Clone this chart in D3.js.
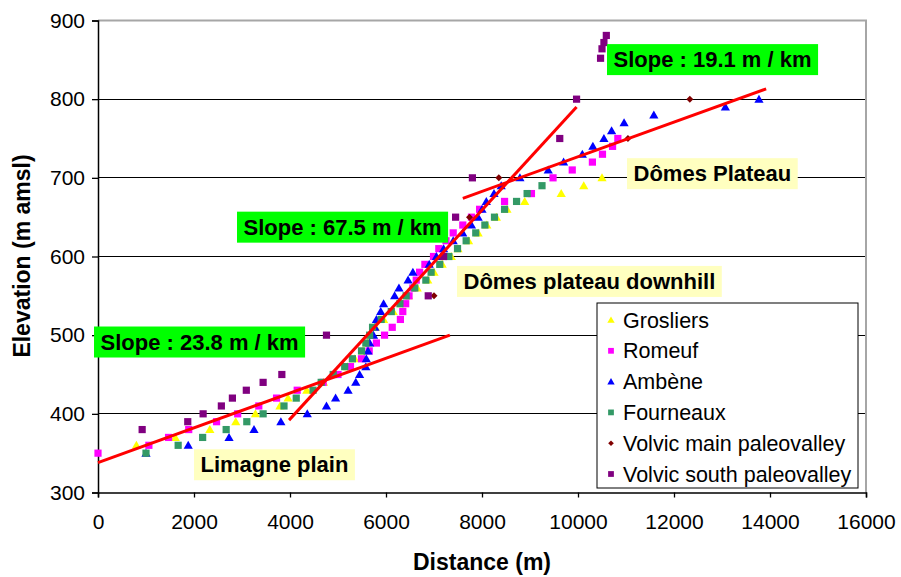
<!DOCTYPE html>
<html><head><meta charset="utf-8">
<script src="https://cdn.jsdelivr.net/npm/d3@7"></script>
<style>body{margin:0;background:#fff} svg{display:block} text{font-family:"Liberation Sans",Arial,sans-serif}</style>
</head><body><svg id="c" width="901" height="577"></svg>
<script>
const xTicks=[0,2000,4000,6000,8000,10000,12000,14000,16000];
const yTicks=[300,400,500,600,700,800,900];
const seriesNames=["Grosliers","Romeuf","Ambène","Fourneaux","Volvic main paleovalley","Volvic south paleovalley"];
const grosliers=[[800,360],[1610,370],[2330,380],[2870,390],[3280,400],[3790,410],[3960,420],[4350,430],[4700,440],[4950,450],[5200,460],[5350,470],[5520,480],[5620,490],[5700,500],[5780,510],[5950,520],[6150,530],[6330,540],[6470,550],[6650,560],[6870,570],[7000,580],[7170,590],[7360,600],[7500,610],[7720,620],[7920,630],[8100,640],[8300,650],[8520,660],[8890,670],[9650,680],[10120,690],[10500,700]];
const romeuf=[[0,350],[1060,360],[1470,370],[1890,380],[2470,390],[2910,400],[3350,410],[3720,420],[4150,430],[4690,440],[5000,450],[5260,460],[5490,470],[5650,480],[5800,490],[5970,500],[6130,510],[6300,520],[6350,530],[6410,540],[6480,550],[6560,560],[6630,570],[6700,580],[6810,590],[6990,600],[7100,610],[7250,620],[7400,630],[7600,640],[7780,650],[7950,660],[8470,670],[9030,680],[9480,700],[9880,710],[10300,720],[10510,730],[10720,740],[10830,750]];
const ambene=[[1000,350],[1880,360],[2730,370],[3250,380],[3810,390],[4360,400],[4760,410],[4950,420],[5210,430],[5370,440],[5450,450],[5580,460],[5590,470],[5625,480],[5660,490],[5740,500],[5770,510],[5800,520],[5890,530],[5950,540],[6180,550],[6270,560],[6460,570],[6560,580],[6900,590],[7050,600],[7200,610],[7400,620],[7600,630],[7780,640],[7920,650],[8000,660],[8090,670],[8250,680],[8400,690],[8790,700],[9380,710],[9700,720],[10090,730],[10310,740],[10540,750],[10700,760],[10960,770],[11580,780],[13070,790],[13770,800]];
const fourneaux=[[1000,350],[1670,360],[2180,370],[2670,380],[3100,390],[3440,400],[3875,410],[4130,420],[4480,430],[4650,440],[4900,450],[5140,460],[5300,470],[5490,480],[5580,490],[5660,500],[5720,510],[5900,520],[6110,530],[6290,540],[6420,550],[6600,560],[6830,570],[6940,580],[7120,590],[7310,600],[7490,610],[7670,620],[7870,630],[8060,640],[8260,650],[8470,660],[8720,670],[8940,680],[9250,690]];
const volvicMain=[[7000,550],[7740,650],[8350,700],[11040,750],[12330,800]];
const volvicSouth=[[920,380],[1870,390],[2190,400],[2570,410],[2800,420],[3090,430],[3440,440],[3830,450],[4760,500],[6880,550],[7200,600],[7450,650],[7800,700],[9620,750],[9970,800],[10470,852],[10500,864],[10540,872],[10590,881]];
const trendLines=[[[0,338],[7330,500]],[[3980,392],[9970,790]],[[7600,674],[13920,813]]];
const annotations=[
 {text:"Slope : 19.1 m / km",x:10604,y:870,kind:"slope"},
 {text:"Dômes Plateau",x:11021,y:725,kind:"zone"},
 {text:"Slope : 67.5 m / km",x:2896,y:657,kind:"slope"},
 {text:"Dômes plateau downhill",x:7479,y:588,kind:"zone"},
 {text:"Slope : 23.8 m / km",x:-83,y:511,kind:"slope"},
 {text:"Limagne plain",x:2000,y:355,kind:"zone"}
];

const seriesData=[grosliers,romeuf,ambene,fourneaux,volvicMain,volvicSouth];
const colors=["#ffff00","#ff00ff","#0000ff","#339966","#800000","#800080"];
const shapes=["tri","sq","tri","sq","dia","sq"];

const svg=d3.select("#c");
const x=d3.scaleLinear().domain([0,16000]).range([98,866]);
const y=d3.scaleLinear().domain([300,900]).range([492.5,20.5]);

function shapePath(s,k){
  k=k||1;
  if(s==="tri") return `M0,${-4.5*k}L${4.6*k},${3.5*k}L${-4.6*k},${3.5*k}Z`;
  if(s==="sq") return `M${-3.6*k},${-3.6*k}h${7.2*k}v${7.2*k}h${-7.2*k}Z`;
  return `M0,${-3.5*k}L${3.5*k},0L0,${3.5*k}L${-3.5*k},0Z`;
}

// gridlines
svg.append("g").selectAll("line").data(yTicks.filter(v=>v>300&&v<900)).join("line")
  .attr("x1",x(0)).attr("x2",x(16000)).attr("y1",d=>y(d)).attr("y2",d=>y(d))
  .attr("stroke","#000").attr("stroke-width",1).attr("shape-rendering","crispEdges");
// plot border top & right
svg.append("path").attr("d",`M${x(0)},${y(900)}H${x(16000)}V${y(300)}`)
  .attr("fill","none").attr("stroke","#a6a6a6").attr("stroke-width",2);

// axes
const yAxis=d3.axisLeft(y).tickValues(yTicks).tickSize(6).tickPadding(7);
const gy=svg.append("g").attr("transform",`translate(${x(0)},0)`).call(yAxis);
gy.selectAll("text").attr("font-size",21).attr("fill","#000").style("font-family","'Liberation Sans',Arial,sans-serif");
gy.select(".domain").attr("stroke","#000").attr("stroke-width",1.5);
gy.selectAll(".tick line").attr("stroke","#000").attr("stroke-width",1.3);

const xAxis=d3.axisBottom(x).tickValues(xTicks).tickFormat(d3.format("d")).tickSize(5).tickPadding(17);
const gx=svg.append("g").attr("transform",`translate(0,${y(300)})`).call(xAxis);
gx.selectAll("text").attr("font-size",21).attr("fill","#000").style("font-family","'Liberation Sans',Arial,sans-serif");
gx.select(".domain").attr("stroke","#000").attr("stroke-width",1.5);
gx.selectAll(".tick line").attr("stroke","#000").attr("stroke-width",1.3);

// titles
svg.append("text").attr("x",482).attr("y",570).attr("text-anchor","middle")
  .attr("font-size",23).attr("font-weight","bold").text("Distance (m)");
svg.append("text").attr("transform","translate(30,256) rotate(-90)").attr("text-anchor","middle")
  .attr("font-size",23).attr("font-weight","bold").text("Elevation (m amsl)");

// series
seriesData.forEach((data,i)=>{
  svg.append("g").selectAll("path").data(data).join("path")
    .attr("d",shapePath(shapes[i]))
    .attr("transform",d=>`translate(${x(d[0])},${y(d[1])})`)
    .attr("fill",colors[i]);
});

// trend lines
const line=d3.line().x(d=>x(d[0])).y(d=>y(d[1]));
svg.append("g").selectAll("path").data(trendLines).join("path")
  .attr("d",line).attr("stroke","#ff0000").attr("stroke-width",3).attr("fill","none");

// annotations
annotations.forEach(a=>{
  const g=svg.append("g").attr("transform",`translate(${x(a.x)},${y(a.y)})`);
  const r=g.append("rect").attr("height",31).attr("fill",a.kind==="slope"?"#00ff00":"#ffffc0");
  const t=g.append("text").attr("x",6.5).attr("y",23).attr("font-size",22)
    .attr("font-weight","bold").attr("fill","#000").text(a.text);
  const w=t.node().getComputedTextLength();
  r.attr("width",w+13);
});

// legend
const lg=svg.append("g").attr("transform","translate(597,303)");
lg.append("rect").attr("width",261).attr("height",185).attr("fill","#fff").attr("stroke","#000").attr("stroke-width",1);
seriesNames.forEach((n,i)=>{
  const cy=17+i*30.8;
  lg.append("path").attr("d",shapePath(shapes[i],0.8)).attr("transform",`translate(14,${cy})`).attr("fill",colors[i]);
  lg.append("text").attr("x",26).attr("y",cy+7.5).attr("font-size",21.5).attr("fill","#000").text(n);
});
</script></body></html>
